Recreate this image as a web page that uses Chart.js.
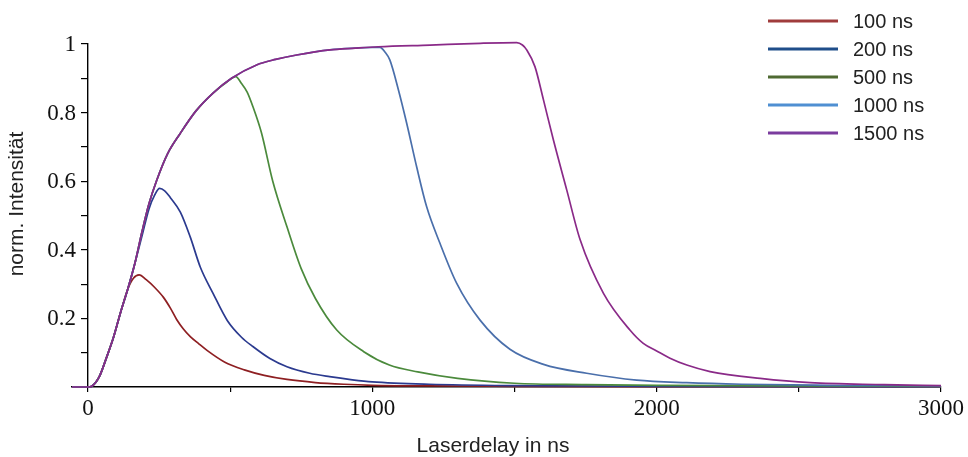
<!DOCTYPE html>
<html>
<head>
<meta charset="utf-8">
<script src="https://cdn.jsdelivr.net/npm/chart.js@4/dist/chart.umd.min.js"></script>
<style>
  html, body { margin: 0; padding: 0; background: #ffffff; }
  #wrap { width: 968px; height: 457px; }
</style>
</head>
<body>
<div id="wrap"><canvas id="c" width="968" height="457"></canvas></div>
<script>
// ---- Data ----
const seriesLabels = ['100 ns', '200 ns', '500 ns', '1000 ns', '1500 ns'];

const delays100 = [-56, 0, 15, 40, 65, 90, 115, 140, 160, 180, 205, 235, 265, 290, 312, 335, 360, 390, 420, 480, 550, 620, 700, 800, 900, 1000, 1200, 1500, 2000, 3000];
const int100    = [0, 0, 0.003, 0.03, 0.085, 0.145, 0.218, 0.285, 0.317, 0.327, 0.313, 0.29, 0.262, 0.23, 0.197, 0.17, 0.147, 0.126, 0.106, 0.073, 0.05, 0.034, 0.022, 0.013, 0.008, 0.005, 0.003, 0.002, 0.001, 0.001];

const delays200 = [-56, 0, 15, 40, 65, 90, 115, 140, 165, 190, 215, 235, 252, 270, 290, 325, 360, 395, 440, 490, 540, 580, 640, 700, 780, 850, 930, 1000, 1200, 1500, 2000, 3000];
const int200    = [0, 0, 0.003, 0.03, 0.085, 0.145, 0.218, 0.285, 0.36, 0.44, 0.52, 0.56, 0.579, 0.572, 0.552, 0.51, 0.437, 0.35, 0.273, 0.194, 0.145, 0.118, 0.083, 0.059, 0.04, 0.03, 0.021, 0.015, 0.008, 0.004, 0.002, 0.001];

const delays500 = [-56, 0, 15, 40, 65, 90, 115, 140, 165, 190, 215, 242, 280, 325, 380, 440, 490, 520, 540, 560, 580, 610, 650, 700, 750, 800, 875, 970, 1060, 1160, 1300, 1500, 1750, 2000, 2500, 3000];
const int500    = [0, 0, 0.003, 0.03, 0.085, 0.145, 0.218, 0.285, 0.36, 0.452, 0.535, 0.603, 0.68, 0.74, 0.805, 0.857, 0.89, 0.905, 0.885, 0.86, 0.818, 0.742, 0.6, 0.467, 0.345, 0.258, 0.166, 0.103, 0.064, 0.044, 0.025, 0.011, 0.007, 0.005, 0.003, 0.002];

const delays1000 = [-56, 0, 15, 40, 65, 90, 115, 140, 165, 190, 215, 242, 280, 325, 380, 440, 505, 593, 660, 734, 851, 940, 1000, 1027, 1045, 1062, 1092, 1121, 1156, 1191, 1238, 1297, 1379, 1484, 1602, 1754, 1930, 2106, 2300, 2600, 3000];
const int1000    = [0, 0, 0.003, 0.03, 0.085, 0.145, 0.218, 0.285, 0.36, 0.452, 0.535, 0.603, 0.68, 0.74, 0.805, 0.857, 0.9, 0.939, 0.955, 0.968, 0.983, 0.988, 0.99, 0.99, 0.976, 0.953, 0.866, 0.769, 0.642, 0.526, 0.419, 0.302, 0.195, 0.11, 0.066, 0.04, 0.02, 0.0125, 0.008, 0.005, 0.003];

const delays1500 = [-56, 0, 15, 40, 65, 90, 115, 140, 165, 190, 215, 242, 280, 325, 380, 440, 505, 593, 660, 734, 851, 940, 1021, 1203, 1379, 1508, 1528, 1543, 1572, 1602, 1637, 1684, 1731, 1813, 1906, 1953, 2000, 2047, 2106, 2188, 2364, 2540, 2800, 3000];
const int1500    = [0, 0, 0.003, 0.03, 0.085, 0.145, 0.218, 0.285, 0.36, 0.452, 0.535, 0.603, 0.68, 0.74, 0.805, 0.857, 0.9, 0.939, 0.955, 0.968, 0.983, 0.988, 0.992, 0.997, 1.002, 1.004, 0.997, 0.983, 0.934, 0.837, 0.72, 0.574, 0.429, 0.273, 0.166, 0.127, 0.105, 0.084, 0.064, 0.045, 0.025, 0.0125, 0.007, 0.004];

const xTickValues = [0, 500, 1000, 1500, 2000, 2500, 3000];
const xTickLabels = ['0', '', '1000', '', '2000', '', '3000'];
const yTickValues = [0, 0.1, 0.2, 0.3, 0.4, 0.5, 0.6, 0.7, 0.8, 0.9, 1];
const yTickLabels = ['', '', '0.2', '', '0.4', '', '0.6', '', '0.8', '', '1'];

// ---- Styles ----
const lineColors   = ['#8e1f22', '#2b3a8f', '#4b8a3c', '#4a6fab', '#8a2a88'];
const legendColors = ['#a03c3c', '#1f4e8a', '#4f6a32', '#4f8fd2', '#7b3c9e'];
const tickFont = '23px "Liberation Serif", "Times New Roman", serif';
const titleFont = '21px "Liberation Sans", Arial, sans-serif';
const xsList = [delays100, delays200, delays500, delays1000, delays1500];
const ysList = [int100, int200, int500, int1000, int1500];

const datasets = seriesLabels.map((lab, i) => ({
  label: lab,
  data: xsList[i].map((x, k) => ({ x: x, y: ysList[i][k] })),
  borderColor: lineColors[i],
  borderWidth: 1.7,
  pointRadius: 0,
  fill: false,
  clip: false,
  cubicInterpolationMode: 'monotone',
  order: seriesLabels.length - i
}));

const overlay = {
  id: 'overlay',
  afterDraw(chart) {
    const ctx = chart.ctx;
    const xs = chart.scales.x, ys = chart.scales.y;
    // y tick labels (axis sits at x = 0)
    ctx.save();
    ctx.fillStyle = '#111';
    ctx.font = tickFont;
    ctx.textAlign = 'right';
    ctx.textBaseline = 'middle';
    const axisX = xs.getPixelForValue(0);
    yTickValues.forEach((v, k) => {
      if (yTickLabels[k]) ctx.fillText(yTickLabels[k], axisX - 12, ys.getPixelForValue(v) + 1);
    });
    ctx.restore();
    // axis titles
    ctx.save();
    ctx.fillStyle = '#222';
    ctx.font = titleFont;
    ctx.textAlign = 'center';
    ctx.textBaseline = 'middle';
    ctx.fillText('Laserdelay in ns', 493, 446);
    ctx.translate(17, 204);
    ctx.rotate(-Math.PI / 2);
    ctx.fillText('norm. Intensität', 0, 0);
    ctx.restore();
    // legend
    ctx.save();
    ctx.font = '20px "Liberation Sans", Arial, sans-serif';
    ctx.textAlign = 'left';
    ctx.textBaseline = 'middle';
    seriesLabels.forEach((lab, i) => {
      const y = 21 + i * 28;
      ctx.strokeStyle = legendColors[i];
      ctx.lineWidth = 3;
      ctx.beginPath();
      ctx.moveTo(768, y);
      ctx.lineTo(838, y);
      ctx.stroke();
      ctx.fillStyle = '#222';
      ctx.fillText(lab, 853, y + 1);
    });
    ctx.restore();
  }
};

new Chart(document.getElementById('c'), {
  type: 'line',
  data: { datasets: datasets },
  options: {
    responsive: false,
    animation: false,
    layout: { padding: { left: 72, right: 27, top: 44, bottom: 0 } },
    plugins: { legend: { display: false }, tooltip: { enabled: false } },
    scales: {
      x: {
        type: 'linear',
        min: -56,
        max: 3000,
        afterBuildTicks: (s) => { s.ticks = xTickValues.map(v => ({ value: v })); },
        afterFit: (s) => { s.height = 70; },
        ticks: {
          callback: (v) => { const k = xTickValues.indexOf(v); return k >= 0 ? xTickLabels[k] : ''; },
          color: '#111',
          font: { family: '"Liberation Serif", "Times New Roman", serif', size: 23 },
          padding: 3,
          maxRotation: 0,
          autoSkip: false
        },
        grid: { drawOnChartArea: false, drawTicks: true, tickLength: 5, color: '#000', lineWidth: 1.2 },
        border: { display: true, color: '#000', width: 1.4 }
      },
      y: {
        type: 'linear',
        position: { x: 0 },
        min: 0,
        max: 1,
        afterBuildTicks: (s) => { s.ticks = yTickValues.map(v => ({ value: v })); },
        ticks: { display: false, autoSkip: false },
        grid: { drawOnChartArea: false, drawTicks: true, tickLength: 6, color: '#000', lineWidth: 1.2 },
        border: { display: true, color: '#000', width: 1.4 }
      }
    }
  },
  plugins: [overlay]
});
</script>
</body>
</html>
